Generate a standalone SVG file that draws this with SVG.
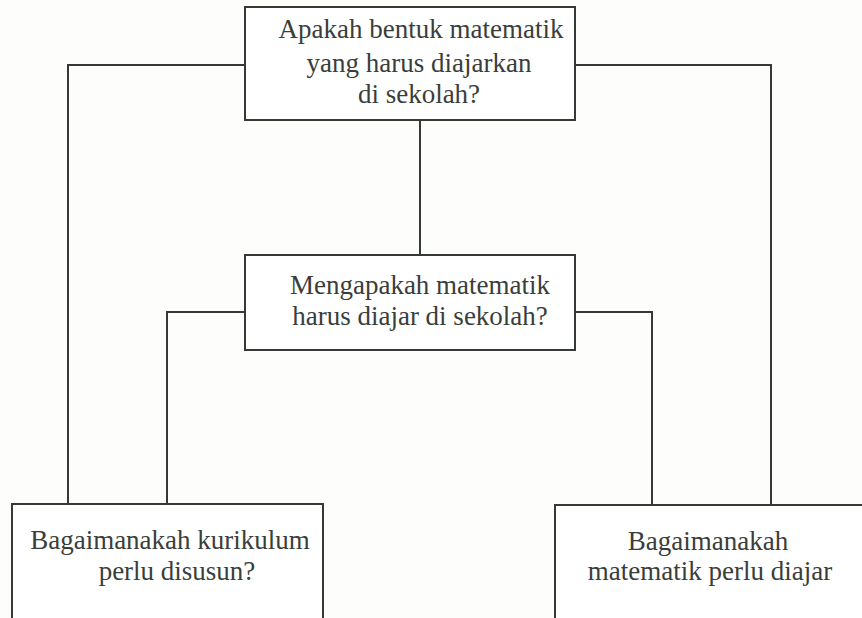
<svg xmlns="http://www.w3.org/2000/svg" width="862" height="618" viewBox="0 0 862 618">
<style>
.box{fill:#ffffff;stroke:#353a36;stroke-width:2}
.con{fill:none;stroke:#353a36;stroke-width:2}
text{font-family:"Liberation Serif","Times New Roman",serif;font-size:27px;fill:#3a3e3b;text-anchor:middle}
</style>
<rect width="862" height="618" fill="#fdfdfc"/>
<g id="connectors">
<path class="con" d="M245 65 H68 V505"/>
<path class="con" d="M575 65 H771 V505"/>
<path class="con" d="M420 120 V255"/>
<path class="con" d="M245 312 H167 V505"/>
<path class="con" d="M575 312 H652 V505"/>
</g>
<g id="top">
<rect class="box" x="245" y="7" width="330" height="113"/>
<text x="421" y="38">Apakah bentuk matematik</text>
<text x="419" y="72">yang harus diajarkan</text>
<text x="419" y="103">di sekolah?</text>
</g>
<g id="middle">
<rect class="box" x="245" y="255" width="330" height="95"/>
<text x="420" y="294">Mengapakah matematik</text>
<text x="420" y="325">harus diajar di sekolah?</text>
</g>
<g id="bottomLeft">
<rect class="box" x="12" y="504" width="311" height="130"/>
<text x="170" y="549">Bagaimanakah kurikulum</text>
<text x="177" y="580">perlu disusun?</text>
</g>
<g id="bottomRight">
<rect class="box" x="555" y="505" width="330" height="130"/>
<text x="708" y="550">Bagaimanakah</text>
<text x="710" y="580">matematik perlu diajar</text>
</g>
</svg>
